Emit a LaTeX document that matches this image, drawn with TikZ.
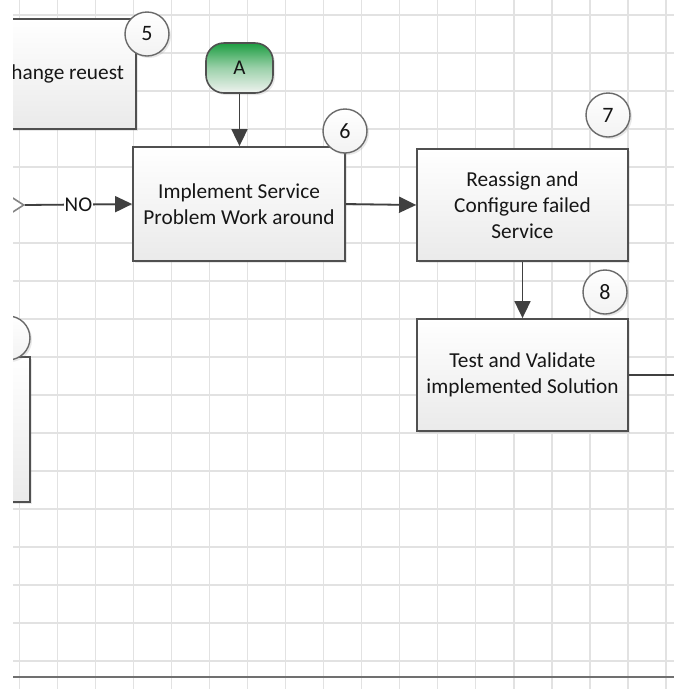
\documentclass[tikz,border=0pt]{standalone}
\usepackage{fontspec}
\setmainfont{Carlito}
\usetikzlibrary{arrows.meta,shadows,shapes.geometric}

\definecolor{gridgray}{RGB}{226,226,226}
\definecolor{edgegray}{RGB}{80,80,80}
\definecolor{linegray}{RGB}{64,64,64}
\definecolor{txtgray}{RGB}{22,22,22}
\definecolor{boxtop}{RGB}{255,255,255}
\definecolor{boxbot}{RGB}{234,234,234}
\definecolor{termgreen}{RGB}{30,158,66}
\definecolor{termlight}{RGB}{240,243,240}

\tikzset{
  gridline/.style={draw=gridgray, line width=1.4pt},
  procbox/.style={rectangle, draw=edgegray, line width=1.8pt,
    top color=boxtop, bottom color=boxbot,
    minimum width=211pt, minimum height=112pt, inner sep=0pt,
    align=center, text=txtgray, font=\fontsize{21.3}{26}\selectfont,
    drop shadow={opacity=0.18, shadow xshift=2pt, shadow yshift=-2pt}},
  stepnum/.style={circle, draw=edgegray!85, line width=1.4pt,
    top color=white, bottom color=boxbot!60,
    minimum size=44pt, inner sep=0pt, text=txtgray,
    font=\fontsize{22}{24}\selectfont,
    drop shadow={opacity=0.18, shadow xshift=2pt, shadow yshift=-2pt}},
  terminal/.style={rectangle, rounded corners=18pt, draw=edgegray, line width=1.6pt,
    top color=termgreen, bottom color=termlight, middle color=termgreen!40!termlight,
    minimum width=67pt, minimum height=50pt, inner sep=0pt, text=txtgray,
    font=\fontsize{21}{24}\selectfont,
    drop shadow={opacity=0.18, shadow xshift=2pt, shadow yshift=-2pt}},
  decision/.style={diamond, draw=edgegray!70, line width=1.6pt, fill=white,
    minimum width=124pt, minimum height=80pt, inner sep=0pt},
  flow/.style={draw=linegray, line width=1.8pt,
    -{Triangle[length=17pt,width=16pt]}},
  plainflow/.style={draw=linegray, line width=1.8pt},
  flowlabel/.style={fill=white, inner sep=1pt, text=txtgray,
    font=\fontsize{21}{24}\selectfont}
}

\begin{document}
\begin{tikzpicture}[x=1pt,y=-1pt]
  \useasboundingbox (0,0) rectangle (674,689);
  \fill[white] (0,0) rectangle (674,689);

  \begin{scope}
    \clip (13,0) rectangle (674,689);

    % background grid
    \foreach \i in {0,...,17}
      \draw[gridline] (19.3+38.04*\i,0) -- (19.3+38.04*\i,689);
    \foreach \j in {0,...,17}
      \draw[gridline] (13,15+38*\j) -- (674,15+38*\j);

    % lane boundary at the bottom
    \draw[draw=linegray!75, line width=2.2pt] (13,677) -- (674,677);

    % process steps
    \node[procbox, minimum width=148pt, minimum height=110pt] (b5) at (62,74) {Change reuest};
    \node[procbox, minimum width=212pt, minimum height=114pt] (b6) at (239,204)
      {Implement Service\\Problem Work around};
    \node[procbox] (b7) at (522.5,205) {Reassign and\\Configure failed\\Service};
    \node[procbox] (b8) at (522.5,375) {Test and Validate\\implemented Solution};
    \node[procbox, minimum width=212pt, minimum height=145pt] (b9) at (-76,429.5) {};

    % decision feeding the workaround
    \node[decision] (dec) at (-38,205) {};

    % off-page connector
    \node[terminal] (ta) at (239.5,68) {A};

    % step numbers
    \node[stepnum] (n5) at (147,34) {5};
    \node[stepnum] (n6) at (345,131) {6};
    \node[stepnum] (n7) at (608,115) {7};
    \node[stepnum] (n8) at (605,292) {8};
    \node[stepnum] (n9) at (8,338) {};

    % connectors
    \coordinate (outR) at (674,375);
    \draw[flow] (ta.south) -- (b6.north -| ta.south);
    \draw[flow] (dec.east) -- node[flowlabel, pos=0.5] {NO} (b6.west);
    \draw[flow] (b6.east) -- (b7.west);
    \draw[flow] (b7.south) -- (b8.north);
    \draw[plainflow] (b8.east) -- (outR);
  \end{scope}
\end{tikzpicture}
\end{document}
